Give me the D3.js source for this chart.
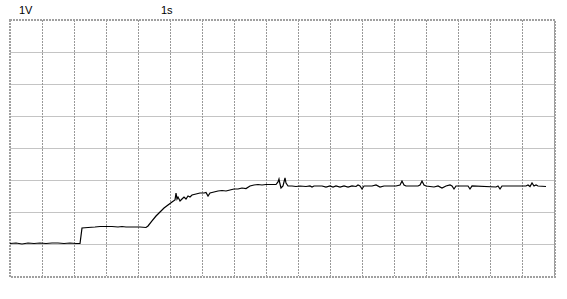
<!DOCTYPE html>
<html><head><meta charset="utf-8">
<script src="https://cdn.jsdelivr.net/npm/d3@7"></script>
<style>html,body{margin:0;padding:0;background:#fff;}svg{display:block;}</style>
</head><body>
<script>
// Data: time in seconds (1 s / div), voltage in volts (1 V / div)
const timeTicks = d3.range(0, 18);
const voltTicks = d3.range(0, 9);
const voltLabel = "1V";
const timeLabel = "1s";
const times = [0.000,0.188,0.375,0.563,0.750,0.938,1.125,1.313,1.500,1.688,1.875,2.063,2.188,2.250,2.438,2.656,2.813,3.000,3.188,3.375,3.500,3.625,3.813,4.063,4.250,4.313,4.438,4.563,4.688,4.813,4.938,5.063,5.156,5.188,5.219,5.250,5.313,5.375,5.438,5.500,5.563,5.625,5.688,5.813,5.938,6.063,6.125,6.188,6.250,6.375,6.500,6.625,6.750,6.875,7.000,7.125,7.250,7.375,7.500,7.625,7.750,7.875,8.000,8.125,8.313,8.375,8.406,8.438,8.469,8.531,8.594,8.625,8.688,8.813,8.938,9.063,9.250,9.375,9.438,9.500,9.750,9.875,10.000,10.094,10.188,10.313,10.438,10.563,10.688,10.813,10.875,10.938,11.000,11.063,11.313,11.438,11.563,11.688,12.063,12.188,12.250,12.313,12.375,12.750,12.813,12.875,12.938,13.000,13.250,13.375,13.500,13.625,13.750,13.813,13.875,13.938,14.313,14.375,14.438,15.188,15.250,15.313,15.375,16.125,16.188,16.250,16.313,16.375,16.438,16.500,16.750];
const volts = [1.016,1.031,1.000,1.031,1.016,1.031,1.016,1.031,1.031,1.016,1.031,1.016,1.016,1.500,1.516,1.531,1.547,1.547,1.547,1.531,1.547,1.531,1.531,1.531,1.516,1.563,1.719,1.875,2.000,2.125,2.219,2.313,2.375,2.594,2.406,2.469,2.344,2.406,2.469,2.406,2.500,2.469,2.531,2.563,2.594,2.594,2.609,2.500,2.594,2.625,2.656,2.672,2.656,2.688,2.719,2.719,2.750,2.734,2.813,2.844,2.859,2.844,2.859,2.859,2.859,2.938,3.031,2.875,2.750,2.813,3.063,2.906,2.813,2.813,2.797,2.813,2.797,2.813,2.781,2.813,2.813,2.781,2.813,2.781,2.813,2.781,2.813,2.781,2.813,2.797,2.844,2.813,2.719,2.813,2.813,2.844,2.781,2.813,2.813,2.844,2.969,2.844,2.813,2.813,2.844,2.969,2.844,2.813,2.781,2.813,2.750,2.813,2.844,2.813,2.719,2.813,2.813,2.719,2.813,2.781,2.813,2.719,2.813,2.813,2.844,2.797,2.906,2.813,2.844,2.813,2.797];

const W = 567, H = 299;
const svg = d3.select("body").append("svg").attr("width", W).attr("height", H);
const x = d3.scaleLinear().domain([0, 17]).range([10, 554]);
const y = d3.scaleLinear().domain([0, 8]).range([276, 20]);

// horizontal grid (solid light gray)
svg.append("g").selectAll("line").data(voltTicks.slice(1, -1)).join("line")
  .attr("x1", x(0)).attr("x2", x(17))
  .attr("y1", d => Math.round(y(d)) + 0.5).attr("y2", d => Math.round(y(d)) + 0.5)
  .attr("stroke", "#c4c4c4").attr("stroke-width", 1).attr("shape-rendering", "crispEdges");

// vertical grid (dotted gray)
svg.append("g").selectAll("line").data(timeTicks.slice(1)).join("line")
  .attr("x1", d => Math.round(x(d)) + 0.5).attr("x2", d => Math.round(x(d)) + 0.5)
  .attr("y1", y(8)).attr("y2", y(0))
  .attr("stroke", "#999").attr("stroke-width", 1).attr("stroke-dasharray", "2,1")
  .attr("shape-rendering", "crispEdges");

// border
svg.append("rect")
  .attr("x", x(0)).attr("y", y(8)).attr("width", x(17) - x(0) + 1).attr("height", y(0) - y(8) + 1)
  .attr("fill", "none").attr("stroke", "#a0a0a0").attr("stroke-width", 2)
  .attr("stroke-dasharray", "2,1").attr("shape-rendering", "crispEdges");

// trace
const pts = times.map((t, i) => [t, volts[i]]);
svg.append("path").datum(pts)
  .attr("d", d3.line().x(d => x(d[0])).y(d => y(d[1])))
  .attr("fill", "none").attr("stroke", "#000").attr("stroke-width", 1.2);

// labels
svg.append("text").attr("x", 19).attr("y", 14).text(voltLabel)
  .attr("font-family", "Liberation Sans, Arial, sans-serif").attr("font-size", 11).attr("fill", "#000");
svg.append("text").attr("x", 161).attr("y", 14).text(timeLabel)
  .attr("font-family", "Liberation Sans, Arial, sans-serif").attr("font-size", 11).attr("fill", "#000");
</script>
</body></html>
